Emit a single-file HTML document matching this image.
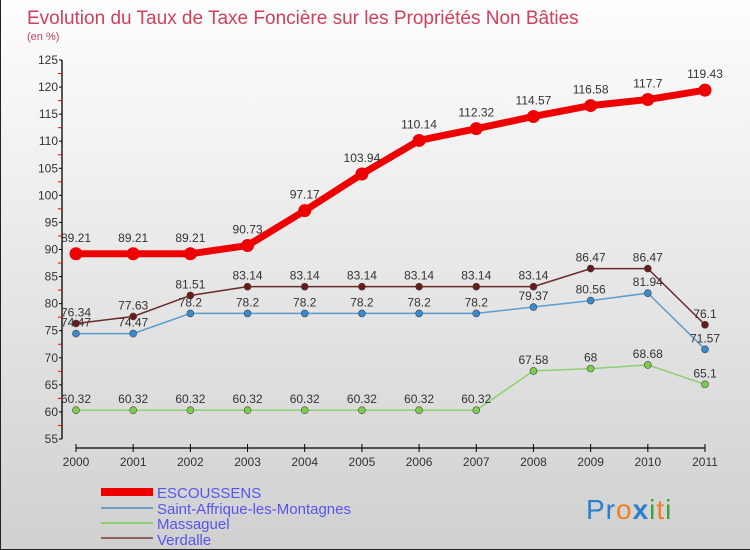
<!DOCTYPE html>
<html><head><meta charset="utf-8"><style>
body{margin:0}
#c{width:750px;height:550px;position:relative;overflow:hidden;font-family:"Liberation Sans",sans-serif;background:linear-gradient(#fefefe,#d0d0d0);box-sizing:border-box;border:1px solid #222;border-top:none;border-right:none}
</style></head><body>
<div id="c">
<svg id="s" width="750" height="550" style="position:absolute;left:0;top:0">
<text x="26" y="24" font-size="19" fill="#d0405a">Evolution du Taux de Taxe Foncière sur les Propriétés Non Bâties</text>
<text x="26" y="40" font-size="11" fill="#d0405a">(en %)</text>
<g id="ax"></g><g id="pl"></g>
<g>
<rect x="100" y="488" width="52" height="8" fill="#e00"/>
<text x="156" y="498" font-size="15" fill="#5555ee">ESCOUSSENS</text>
<rect x="100" y="507" width="52" height="2" fill="#6a9ec8"/>
<text x="156" y="514" font-size="15" fill="#5555ee">Saint-Affrique-les-Montagnes</text>
<rect x="100" y="522" width="52" height="2" fill="#8cd070"/>
<text x="156" y="529" font-size="15" fill="#5555ee">Massaguel</text>
<rect x="100" y="537" width="52" height="2" fill="#8a6060"/>
<text x="156" y="545" font-size="15" fill="#5555ee">Verdalle</text>
</g>
<text x="585" y="519" font-size="28" letter-spacing="1"><tspan fill="#2a7fd0">Pr</tspan><tspan fill="#f08020">o</tspan><tspan fill="#2a7fd0" font-weight="bold">x</tspan><tspan fill="#40a040">i</tspan><tspan fill="#f08020">t</tspan><tspan fill="#40a040">i</tspan></text>
</svg>
</div>
<script>
const years=[2000,2001,2002,2003,2004,2005,2006,2007,2008,2009,2010,2011];
const yTicks=[55,60,65,70,75,80,85,90,95,100,105,110,115,120,125];
const escoussens=[89.21,89.21,89.21,90.73,97.17,103.94,110.14,112.32,114.57,116.58,117.7,119.43];
const saintAffrique=[74.47,74.47,78.2,78.2,78.2,78.2,78.2,78.2,79.37,80.56,81.94,71.57];
const massaguel=[60.32,60.32,60.32,60.32,60.32,60.32,60.32,60.32,67.58,68,68.68,65.1];
const verdalle=[76.34,77.63,81.51,83.14,83.14,83.14,83.14,83.14,83.14,86.47,86.47,76.1];
const NS="http://www.w3.org/2000/svg";
const X=i=>75+i*(704-75)/(years.length-1);
const Y=v=>60+(125-v)*(439-60)/70;
function mk(p,t,a){const e=document.createElementNS(NS,t);for(const k in a)e.setAttribute(k,a[k]);p.appendChild(e);return e;}
const ax=document.getElementById('ax');
let e=mk(ax,'line',{x1:61,y1:Y(125),x2:61,y2:Y(55),stroke:'#000','stroke-width':1.3});


yTicks.forEach(v=>{
 let t=mk(ax,'line',{x1:58,y1:Y(v),x2:61,y2:Y(v),stroke:'#000'});
 
 
 if(v<125){let m=mk(ax,'line',{x1:57,y1:Y(v+2.5),x2:61,y2:Y(v+2.5),stroke:'#e00'});
 
 }
 let l=mk(ax,'text',{x:57,y:Y(v)+4,'text-anchor':'end','font-size':12,fill:'#333'});l.textContent=v;
 
 
});
e=mk(ax,'line',{x1:X(0),y1:448,x2:X(11),y2:448,stroke:'#000','stroke-width':1.3});


years.forEach((y,i)=>{
 let t=mk(ax,'line',{x1:X(i),y1:444,x2:X(i),y2:452,stroke:'#000'});
 
 
 let l=mk(ax,'text',{x:X(i),y:466,'text-anchor':'middle','font-size':12,fill:'#333'});l.textContent=y;
 
 
});
const pl=document.getElementById('pl');
function series(data,name,col,dot,w,r,fs,off){
 const g=mk(pl,'g',{});
 
 
 let p=mk(g,'polyline',{points:data.map((v,i)=>X(i)+','+Y(v)).join(' '),fill:'none',stroke:col,'stroke-width':w});
 
 
 data.forEach((v,i)=>{
  let c=mk(g,'circle',{cx:X(i),cy:Y(v),r:r,fill:dot,stroke:w>3?'none':'#444','stroke-width':0.6});
  
  
  let l=mk(g,'text',{x:X(i),y:Y(v)-off,'text-anchor':'middle','font-size':fs,fill:'#333'});l.textContent=v;
  
  
 });
}
series(massaguel,'massaguel','#8cd070','#7ccc50',1.5,3.5,12,7);
series(saintAffrique,'saint-affrique','#5a9ed0','#3a8ad0',1.5,3.5,12,7);
series(verdalle,'verdalle','#6a2a2a','#6a1a1a',1.5,3.5,12,7);
series(escoussens,'escoussens','#e00','#e00',7,6.5,12,12);
</script>
</body></html>
